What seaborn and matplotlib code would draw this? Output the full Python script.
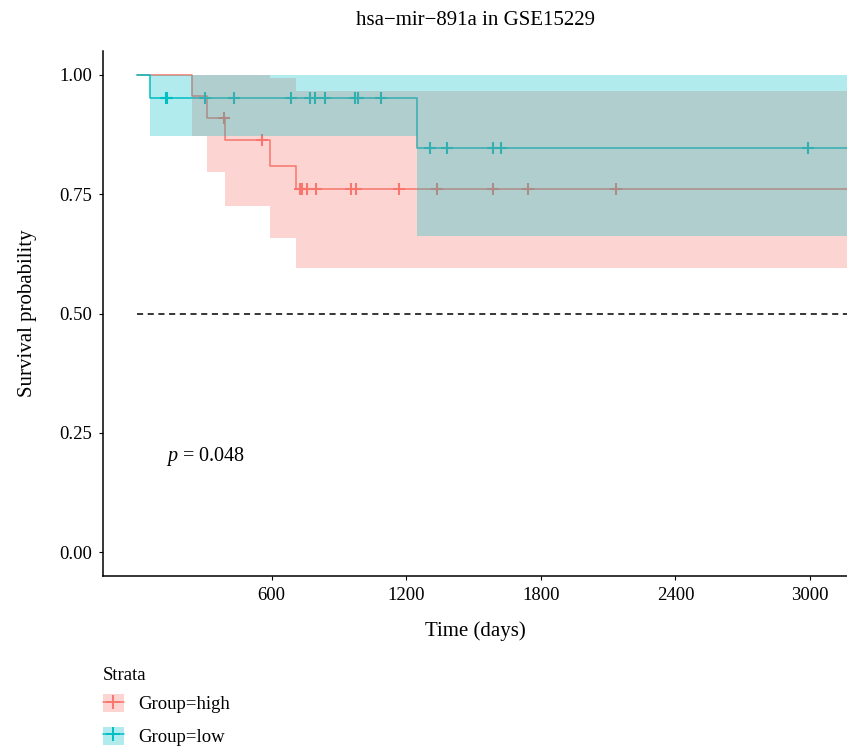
import numpy as np
import pandas as pd
import matplotlib
matplotlib.use("Agg")
import matplotlib.pyplot as plt
import seaborn as sns
from matplotlib.patches import Patch
from matplotlib.lines import Line2D
from matplotlib.legend_handler import HandlerTuple

# ---------------- data ----------------
groups = ["Group=high", "Group=low"]
colors = {"Group=high": "#F8766D", "Group=low": "#00BFC4"}

high_times = [0, 246, 312, 392, 594, 708]
high_surv = [1.0, 0.955, 0.909, 0.864, 0.809, 0.760]
high_lower = [1.0, 0.871, 0.796, 0.726, 0.658, 0.595]
high_upper = [1.0, 1.0, 1.0, 1.0, 0.994, 0.967]
high_censor = [388, 558, 726, 735, 756, 797, 952, 978, 1168, 1339, 1587, 1745, 2137]

low_times = [0, 58, 1250]
low_surv = [1.0, 0.952, 0.847]
low_lower = [1.0, 0.871, 0.662]
low_upper = [1.0, 1.0, 1.0]
low_censor = [128, 135, 303, 432, 685, 771, 793, 839, 973, 986, 1087,
              1305, 1380, 1587, 1624, 2990]

x_ticks = [600, 1200, 1800, 2400, 3000]
y_ticks = [0.00, 0.25, 0.50, 0.75, 1.00]
title = "hsa\u2212mir\u2212891a in GSE15229"
p_text = r"$p$ = 0.048"

XMIN, XMAX = -150, 3165

curves = {
    "Group=high": (high_times, high_surv, high_lower, high_upper, high_censor),
    "Group=low": (low_times, low_surv, low_lower, low_upper, low_censor),
}

# ---------------- style ----------------
sns.set_theme(style="ticks")
plt.rcParams["font.family"] = ["Liberation Serif", "DejaVu Serif"]
plt.rcParams["mathtext.fontset"] = "custom"
plt.rcParams["mathtext.it"] = "Liberation Serif:italic"
plt.rcParams["mathtext.rm"] = "Liberation Serif"
plt.rcParams["text.color"] = "black"
plt.rcParams["axes.labelcolor"] = "black"

fig = plt.figure(figsize=(8.47, 7.48), dpi=100)
ax = fig.add_axes([103.3 / 847, 1 - 576 / 748, 1 - 103.3 / 847, (576 - 51) / 748])

# step lines
rows = []
for g in groups:
    t, s, lo, up, c = curves[g]
    for ti, si in zip(list(t) + [XMAX], list(s) + [s[-1]]):
        rows.append({"time": ti, "surv": si, "group": g})
line_df = pd.DataFrame(rows)
sns.lineplot(data=line_df, x="time", y="surv", hue="group", palette=colors,
             drawstyle="steps-post", estimator=None, sort=False,
             linewidth=1.1, legend=False, ax=ax, zorder=2)

# censor marks
crow = []
for g in groups:
    t, s, lo, up, c = curves[g]
    idx = np.searchsorted(np.array(t), np.array(c), side="right") - 1
    for ci, ii in zip(c, idx):
        crow.append({"time": ci, "surv": s[ii], "group": g})
cens_df = pd.DataFrame(crow)
sns.scatterplot(data=cens_df, x="time", y="surv", hue="group", palette=colors,
                marker="+", s=75, linewidth=1.5, legend=False, ax=ax, zorder=3)

# confidence ribbons
for g in groups:
    t, s, lo, up, c = curves[g]
    tt = list(t) + [XMAX]
    ax.fill_between(tt, list(lo) + [lo[-1]], list(up) + [up[-1]], step="post",
                    color=colors[g], alpha=0.3, linewidth=0, zorder=4)

# median reference line
ax.plot([0, XMAX], [0.5, 0.5], color="black", linestyle=(0, (4, 3)),
        linewidth=1.1, zorder=5)

ax.text(128, 0.2, p_text, fontsize=14.5, ha="left", va="center")

ax.set_xlim(XMIN, XMAX)
ax.set_ylim(-0.05, 1.05)
ax.set_xticks(x_ticks)
ax.set_xticklabels([str(v) for v in x_ticks])
ax.set_yticks(y_ticks)
ax.set_yticklabels([f"{v:.2f}" for v in y_ticks])
ax.tick_params(axis="both", labelsize=13.5, length=3, width=0.8, pad=5,
               colors="black")
for sp in ["top", "right"]:
    ax.spines[sp].set_visible(False)
for sp in ["left", "bottom"]:
    ax.spines[sp].set_linewidth(1.1)
    ax.spines[sp].set_color("black")

ax.set_xlabel("Time (days)", fontsize=15, labelpad=12)
ax.set_ylabel("Survival probability", fontsize=15, labelpad=16)
ax.set_title(title, fontsize=15, pad=19)

handles = []
for g in groups:
    handles.append((Patch(facecolor=colors[g], alpha=0.3, edgecolor="none"),
                    Line2D([], [], color=colors[g], marker="+", markersize=10,
                           linewidth=1.1, markeredgewidth=1.4)))
leg = fig.legend(handles, groups, title="Strata", loc="upper left",
                 bbox_to_anchor=(103 / 847, 1 - 667 / 748), frameon=False,
                 fontsize=13.5, title_fontsize=13.5, alignment="left",
                 handler_map={tuple: HandlerTuple(ndivide=1)},
                 handlelength=1.1, handleheight=1.1, handletextpad=0.8,
                 labelspacing=0.7, borderpad=0, borderaxespad=0)
leg._legend_box.sep = 7.2

fig.savefig("out.png", dpi=100)
